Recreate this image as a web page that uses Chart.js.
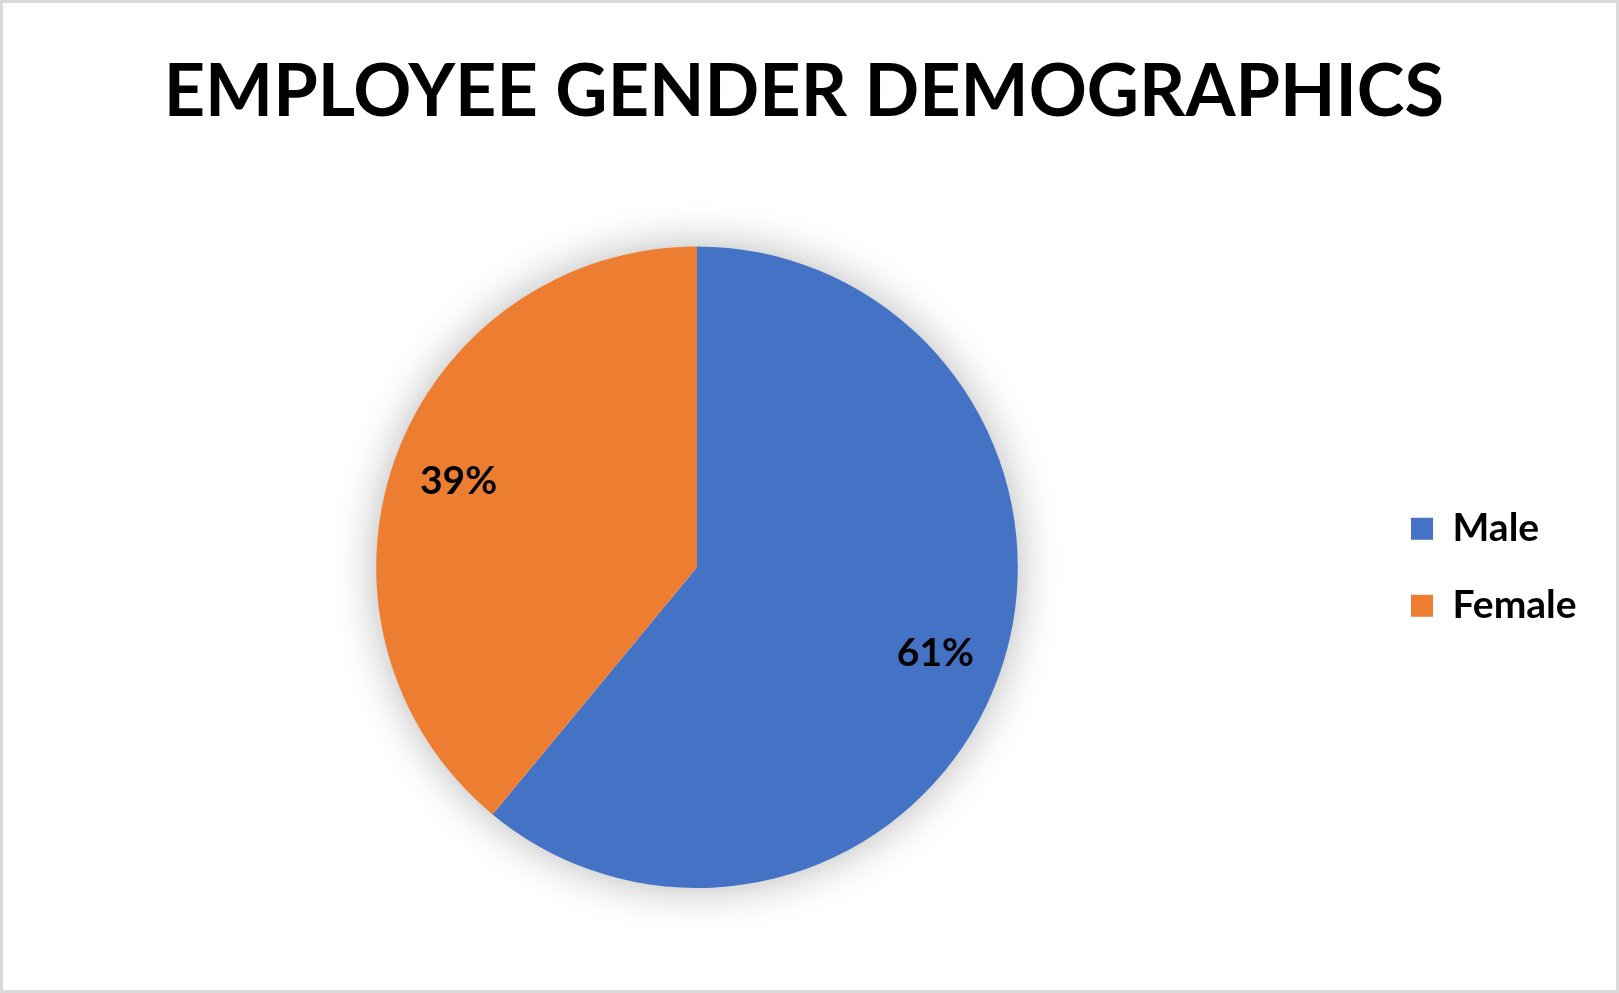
<!DOCTYPE html>
<html>
<head>
<meta charset="utf-8">
<title>Employee Gender Demographics</title>
<script src="https://cdn.jsdelivr.net/npm/chart.js@4.4.1/dist/chart.umd.min.js"></script>
<style>
    html, body { margin: 0; padding: 0; background: #fff; }
    #wrap {
        width: 1619px;
        height: 993px;
        box-sizing: border-box;
        border: 3px solid #d9d9d9;
        position: relative;
    }
</style>
</head>
<body>
<div id="wrap"><canvas id="genderChart"></canvas></div>
<script>
// chart data
const categories = ['Male', 'Female'];
const shareValues = [61, 39];
const sliceColors = ['#4472C4', '#ED7D31'];
const chartTitle = 'EMPLOYEE GENDER DEMOGRAPHICS';

const fontFamily = "Lato, 'Open Sans', sans-serif";
const labelSize = 39;
const legendBox = 22;
const legendPad = 38;
const legendLeft = 1370;

// soft glow under the pie, like the office chart shadow
const pieShadow = {
    id: 'pieShadow',
    beforeDatasetsDraw(chart) {
        const arc = chart.getDatasetMeta(0).data[0];
        if (!arc) return;
        const ctx = chart.ctx;
        ctx.save();
        ctx.shadowColor = 'rgba(0, 0, 0, 0.30)';
        ctx.shadowBlur = 45;
        ctx.fillStyle = '#ffffff';
        ctx.beginPath();
        ctx.arc(arc.x, arc.y, arc.outerRadius - 1, 0, Math.PI * 2);
        ctx.fill();
        ctx.restore();
    }
};

// percentage labels inside the slices
const sliceLabels = {
    id: 'sliceLabels',
    afterDatasetsDraw(chart) {
        const ctx = chart.ctx;
        const data = chart.data.datasets[0].data;
        const total = data.reduce((a, b) => a + b, 0);
        ctx.save();
        ctx.font = 'bold ' + labelSize + 'px ' + fontFamily;
        ctx.fillStyle = '#000000';
        ctx.textAlign = 'center';
        ctx.textBaseline = 'middle';
        chart.getDatasetMeta(0).data.forEach((arc, i) => {
            const mid = (arc.startAngle + arc.endAngle) / 2;
            const r = arc.outerRadius * 0.79;
            const pct = Math.round(data[i] / total * 100) + '%';
            ctx.fillText(pct, arc.x + Math.cos(mid) * r, arc.y + Math.sin(mid) * r);
        });
        ctx.restore();
    }
};

function legendWidth() {
    const c = document.createElement('canvas').getContext('2d');
    c.font = 'bold ' + labelSize + 'px ' + fontFamily;
    let w = 0;
    categories.forEach(t => { w = Math.max(w, c.measureText(t).width); });
    return legendPad + legendBox + labelSize / 2 + w + 10;
}

function initChart(canvasId) {
    const canvas = document.getElementById(canvasId);
    if (!canvas) {
        console.error('Canvas not found:', canvasId);
        return;
    }
    const ctx = canvas.getContext('2d');
    const rightPad = Math.max(0, 1613 - legendLeft - legendWidth());
    // keep the pie centred at x = 694 inside the canvas
    const leftPad = 2 * 694 - legendLeft;

    try {
        new Chart(ctx, {
            type: 'pie',
            data: {
                labels: categories,
                datasets: [{
                    data: shareValues,
                    backgroundColor: sliceColors,
                    borderWidth: 0
                }]
            },
            plugins: [pieShadow, sliceLabels],
            options: {
                responsive: true,
                maintainAspectRatio: false,
                animation: false,
                layout: {
                    padding: { top: 0, left: leftPad, right: rightPad, bottom: 102 }
                },
                plugins: {
                    title: {
                        display: true,
                        text: chartTitle,
                        color: '#000000',
                        font: { size: 72, weight: 'bold', family: fontFamily, lineHeight: 1.2 },
                        padding: { top: 47, bottom: 110 }
                    },
                    legend: {
                        position: 'right',
                        fullSize: false,
                        labels: {
                            color: '#000000',
                            boxWidth: legendBox,
                            boxHeight: legendBox,
                            padding: legendPad,
                            font: { size: labelSize, weight: 'bold', family: fontFamily }
                        }
                    },
                    tooltip: { enabled: false }
                }
            }
        });
    } catch (error) {
        console.error('Error creating chart:', error);
    }
}

initChart('genderChart');
</script>
</body>
</html>
